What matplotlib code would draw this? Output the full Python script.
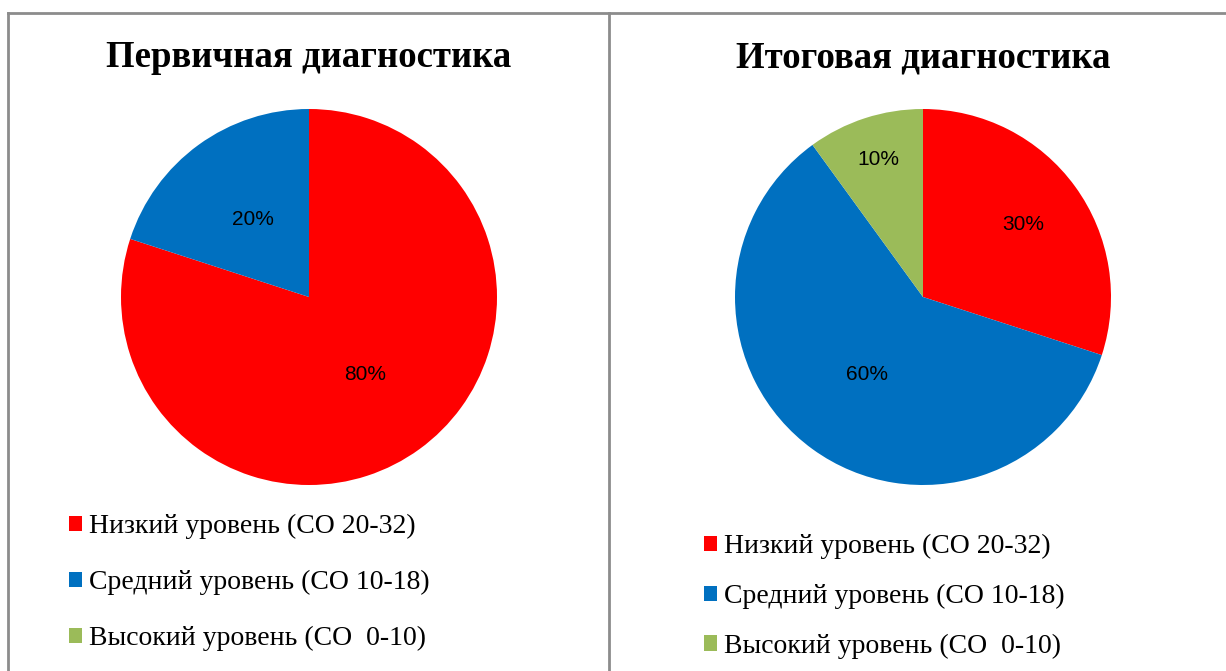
import numpy as np
import matplotlib
matplotlib.use("Agg")
import matplotlib.pyplot as plt
from matplotlib.patches import Patch
from matplotlib.lines import Line2D

# данные
categories = ["Низкий уровень (СО 20-32)", "Средний уровень (СО 10-18)", "Высокий уровень (СО  0-10)"]
colors = ["#FF0000", "#0070C0", "#9BBB59"]
first_vals = [80, 20, 0]
final_vals = [30, 60, 10]
titles = ["Первичная диагностика", "Итоговая диагностика"]

W, H = 1226, 671
fig = plt.figure(figsize=(W / 100, H / 100), dpi=100)
fig.patch.set_facecolor("white")

def px_rect(x0, y0, x1, y1):
    # прямоугольник в пикселях (от верхнего края) -> доли фигуры
    return [x0 / W, 1 - y1 / H, (x1 - x0) / W, (y1 - y0) / H]

# рамки
gray = "#8C8C8C"
fig.add_artist(Line2D([8 / W, 8 / W], [0, 1 - 13 / H], color=gray, lw=2))
fig.add_artist(Line2D([609 / W, 609 / W], [0, 1 - 13 / H], color=gray, lw=2))
fig.add_artist(Line2D([8 / W, 1], [1 - 13 / H, 1 - 13 / H], color=gray, lw=2))

def draw_pie(cx, vals, label_dist, title, leg_x, leg_y, spacing):
    ax = fig.add_axes(px_rect(cx - 188, 109, cx + 188, 485))
    wedges, _ = ax.pie(vals, colors=colors, startangle=90, counterclock=False,
                       radius=1, wedgeprops=dict(linewidth=0))
    ax.set_xlim(-1, 1)
    ax.set_ylim(-1, 1)
    ax.set_aspect("equal")
    ax.axis("off")
    total = sum(vals)
    for w, v, d in zip(wedges, vals, label_dist):
        if v == 0:
            continue
        ang = np.deg2rad((w.theta1 + w.theta2) / 2)
        ax.text(d * np.cos(ang), d * np.sin(ang), "%d%%" % round(100 * v / total),
                ha="center", va="center", fontsize=15, family="Liberation Sans")
    fig.text(cx / W, 1 - 67 / H, title, ha="center", va="baseline",
             fontsize=26.5, fontweight="bold", family="Liberation Serif")
    handles = [Patch(facecolor=c, edgecolor="none") for c in colors]
    fig.legend(handles, categories, loc="upper left",
               bbox_to_anchor=(leg_x / W, 1 - leg_y / H), frameon=False,
               prop=dict(family="Liberation Serif", size=20),
               handlelength=0.47, handleheight=0.47, handletextpad=0.25,
               labelspacing=spacing, borderpad=0, borderaxespad=0)

draw_pie(309, first_vals, [0.51, 0.51, 0.5], titles[0], 69, 514, 1.11)
draw_pie(923, final_vals, [0.66, 0.51, 0.77], titles[1], 704, 534, 0.89)

plt.savefig("out.png", dpi=100)
